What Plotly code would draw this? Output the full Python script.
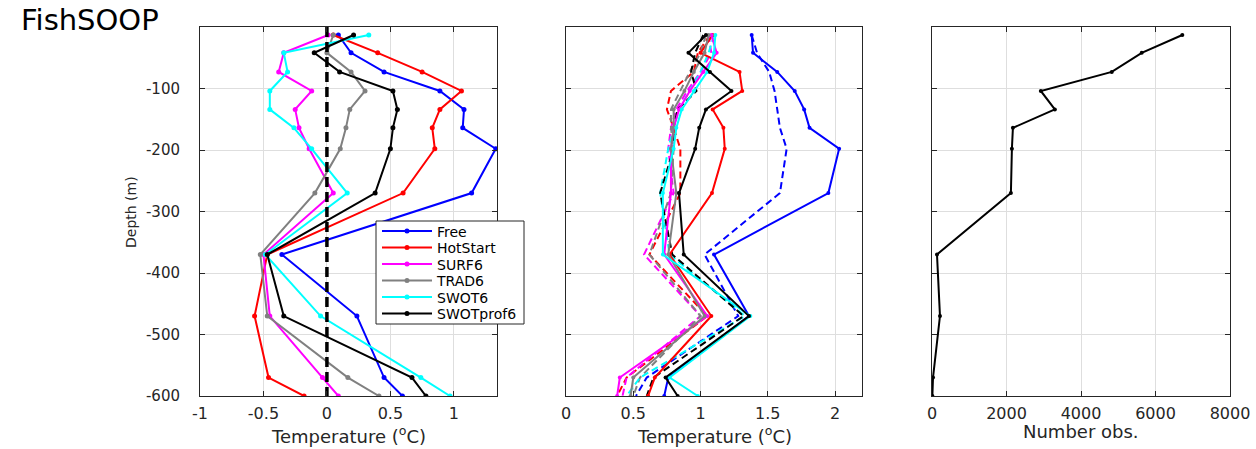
import plotly.graph_objects as go

# ---------------- data ----------------
depth = [-13, -42, -73, -104, -134, -164, -198, -270, -370, -470, -570, -600]

series_names = ["Free", "HotStart", "SURF6", "TRAD6", "SWOT6", "SWOTprof6"]
series_colors = ["#0000ff", "#ff0000", "#ff00ff", "#808080", "#00ffff", "#000000"]

# Panel 1: mean temperature difference (deg C)
bias_free = [0.09, 0.19, 0.45, 0.89, 1.08, 1.07, 1.33, 1.14, -0.355, 0.236, 0.45, 0.595]
bias_hotstart = [0.05, 0.40, 0.75, 1.06, 0.89, 0.83, 0.85, 0.60, -0.47, -0.57, -0.46, -0.18]
bias_surf6 = [0.01, -0.34, -0.38, -0.12, -0.25, -0.22, -0.14, 0.05, -0.50, -0.45, -0.035, 0.09]
bias_trad6 = [0.05, 0.00, 0.19, 0.30, 0.18, 0.15, 0.105, -0.095, -0.525, -0.47, 0.165, 0.41]
bias_swot6 = [0.33, -0.34, -0.31, -0.45, -0.45, -0.26, -0.12, 0.16, -0.485, -0.05, 0.74, 0.97]
bias_swotprof6 = [0.21, -0.10, 0.10, 0.52, 0.555, 0.52, 0.50, 0.38, -0.47, -0.34, 0.67, 0.78]

# Panel 2: RMS temperature difference (deg C), solid and dashed
rms_free = [1.38, 1.39, 1.57, 1.70, 1.77, 1.81, 2.03, 1.95, 1.10, 1.36, 0.76, 0.73]
rms_hotstart = [1.09, 1.00, 1.29, 1.31, 1.09, 1.17, 1.18, 1.085, 0.77, 1.08, 0.66, 0.61]
rms_surf6 = [1.08, 1.12, 1.02, 0.92, 0.84, 0.80, 0.78, 0.78, 0.73, 1.05, 0.40, 0.38]
rms_trad6 = [1.06, 1.03, 0.95, 0.88, 0.80, 0.80, 0.78, 0.82, 0.76, 1.03, 0.50, 0.48]
rms_swot6 = [1.11, 1.10, 1.05, 0.95, 0.86, 0.82, 0.80, 0.72, 0.72, 1.37, 0.77, 0.98]
rms_swotprof6 = [1.04, 0.91, 1.07, 1.23, 1.04, 0.99, 0.96, 0.84, 0.875, 1.36, 0.74, 0.83]

rmsd_free = [1.38, 1.42, 1.51, 1.55, 1.57, 1.59, 1.64, 1.59, 1.03, 1.28, 0.60, 0.52]
rmsd_hotstart = [1.07, 0.98, 0.95, 0.78, 0.75, 0.80, 0.85, 0.85, 0.62, 1.05, 0.45, 0.38]
rmsd_surf6 = [1.06, 1.08, 1.00, 0.90, 0.82, 0.78, 0.76, 0.80, 0.58, 1.00, 0.45, 0.42]
rmsd_trad6 = [1.04, 1.00, 0.92, 0.85, 0.78, 0.78, 0.80, 0.78, 0.62, 1.00, 0.55, 0.50]
rmsd_swot6 = [1.10, 1.06, 1.00, 0.92, 0.84, 0.80, 0.76, 0.70, 0.77, 1.33, 0.55, 0.45]
rmsd_swotprof6 = [1.02, 0.96, 0.93, 0.97, 0.83, 0.80, 0.80, 0.70, 0.79, 1.32, 0.65, 0.60]

# Panel 3: number of observations
n_obs = [6720, 5630, 4826, 2922, 3298, 2172, 2145, 2118, 134, 214, 27, 10]

# zero reference line for panel 1
zero_line_x = [0, 0]
zero_line_y = [0, -600]

# ticks
y_tick_vals = [-600, -500, -400, -300, -200, -100]
y_tick_text = ["-600", "-500", "-400", "-300", "-200", "-100"]
x1_tick_vals = [-1, -0.5, 0, 0.5, 1]
x1_tick_text = ["-1", "-0.5", "0", "0.5", "1"]
x2_tick_vals = [0, 0.5, 1, 1.5, 2]
x2_tick_text = ["0", "0.5", "1", "1.5", "2"]
x3_tick_vals = [0, 2000, 4000, 6000, 8000]
x3_tick_text = ["0", "2000", "4000", "6000", "8000"]

bias_series = [bias_free, bias_hotstart, bias_surf6, bias_trad6, bias_swot6, bias_swotprof6]
rms_series = [rms_free, rms_hotstart, rms_surf6, rms_trad6, rms_swot6, rms_swotprof6]
rmsd_series = [rmsd_free, rmsd_hotstart, rmsd_surf6, rmsd_trad6, rmsd_swot6, rmsd_swotprof6]

# ---------------- layout helpers ----------------
FONT = "DejaVu Sans"
AX = "#262626"
GRID = "#dedede"

W, H = 1256, 449
ML, MR, MT, MB = 200, 26, 27, 53
PW = W - ML - MR
PH = H - MT - MB


def px_x(p):
    return (p - ML) / PW


def px_y(p):
    return (H - MB - p) / PH


d1 = [px_x(200), px_x(497)]
d2 = [px_x(566), px_x(862)]
d3 = [px_x(932), px_x(1230)]

# legend box geometry (pixels)
LEG_LEFT, LEG_RIGHT, LEG_TOP, LEG_BOTTOM = 376, 524, 221, 324
LEG_FIRST, LEG_STEP = 231.5, 16.5
legend_ids = ["legend"] + ["legend%d" % (i + 2) for i in range(len(series_names) - 1)]

# ---------------- figure ----------------
fig = go.Figure()

for lid, name, col, vals in zip(legend_ids, series_names, series_colors, bias_series):
    fig.add_trace(go.Scatter(
        x=vals, y=depth, mode="lines+markers", name=name,
        line=dict(color=col, width=2), marker=dict(color=col, size=5),
        xaxis="x", yaxis="y", showlegend=True, legend=lid))

fig.add_trace(go.Scatter(
    x=zero_line_x, y=zero_line_y, mode="lines",
    line=dict(color="black", width=3.5, dash="10px,5px"),
    xaxis="x", yaxis="y", showlegend=False, hoverinfo="skip"))

for name, col, vals in zip(series_names, series_colors, rmsd_series):
    fig.add_trace(go.Scatter(
        x=vals, y=depth, mode="lines", name=name + " (dashed)",
        line=dict(color=col, width=2, dash="7px,4px"),
        xaxis="x2", yaxis="y2", showlegend=False))

for name, col, vals in zip(series_names, series_colors, rms_series):
    fig.add_trace(go.Scatter(
        x=vals, y=depth, mode="lines+markers", name=name,
        line=dict(color=col, width=2), marker=dict(color=col, size=4),
        xaxis="x2", yaxis="y2", showlegend=False))

fig.add_trace(go.Scatter(
    x=n_obs, y=depth, mode="lines+markers", name="Number obs.",
    line=dict(color="black", width=2), marker=dict(color="black", size=4),
    xaxis="x3", yaxis="y3", showlegend=False))

tickfont = dict(family=FONT, size=16, color=AX)


def xaxis(domain, rng, tv, tt, anchor):
    return dict(domain=domain, range=rng, tickvals=tv, ticktext=tt, anchor=anchor,
                showline=True, linecolor=AX, linewidth=1, mirror="ticks",
                ticks="inside", ticklen=5, tickcolor=AX, showgrid=True,
                gridcolor=GRID, gridwidth=1, zeroline=False, tickfont=tickfont,
                ticklabelstandoff=3, fixedrange=True)


def yaxis(anchor, labels):
    return dict(domain=[0, 1], range=[-600, 0], tickvals=y_tick_vals,
                ticktext=y_tick_text, anchor=anchor, showticklabels=labels,
                showline=True, linecolor=AX, linewidth=1, mirror="ticks",
                ticks="inside", ticklen=5, tickcolor=AX, showgrid=True,
                gridcolor=GRID, gridwidth=1, zeroline=False,
                tickfont=dict(family=FONT, size=15, color=AX),
                ticklabelstandoff=16, fixedrange=True)


layout_legends = {}
for i, lid in enumerate(legend_ids):
    layout_legends[lid] = dict(
        x=px_x(LEG_LEFT + 1), y=px_y(LEG_FIRST + i * LEG_STEP),
        xanchor="left", yanchor="middle",
        bgcolor="rgba(0,0,0,0)", borderwidth=0,
        font=dict(family=FONT, size=14, color="black"),
        itemwidth=50, tracegroupgap=0)

fig.update_layout(
    width=W, height=H,
    margin=dict(l=ML, r=MR, t=MT, b=MB, autoexpand=False),
    paper_bgcolor="white", plot_bgcolor="white",
    xaxis=xaxis(d1, [-1, 1.34], x1_tick_vals, x1_tick_text, "y"),
    xaxis2=xaxis(d2, [0, 2.2], x2_tick_vals, x2_tick_text, "y2"),
    xaxis3=xaxis(d3, [0, 8000], x3_tick_vals, x3_tick_text, "y3"),
    yaxis=yaxis("x", True),
    yaxis2=yaxis("x2", False),
    yaxis3=yaxis("x3", False),
    title=dict(text="FishSOOP", x=21 / W, xanchor="left", y=1 - 20 / H,
               yanchor="middle", xref="container", yref="container",
               font=dict(family=FONT, size=29, color="black")),
    showlegend=True,
    shapes=[dict(type="rect", xref="paper", yref="paper",
                 x0=px_x(LEG_LEFT), x1=px_x(LEG_RIGHT),
                 y0=px_y(LEG_BOTTOM), y1=px_y(LEG_TOP),
                 fillcolor="white", line=dict(color=AX, width=1), layer="above")],
    annotations=[
        dict(text="Temperature (<sup>o</sup>C)", xref="paper", yref="paper",
             x=(d1[0] + d1[1]) / 2, y=px_y(435), xanchor="center", yanchor="middle",
             showarrow=False, font=dict(family=FONT, size=18, color=AX)),
        dict(text="Temperature (<sup>o</sup>C)", xref="paper", yref="paper",
             x=(d2[0] + d2[1]) / 2, y=px_y(435), xanchor="center", yanchor="middle",
             showarrow=False, font=dict(family=FONT, size=18, color=AX)),
        dict(text="Number obs.", xref="paper", yref="paper",
             x=(d3[0] + d3[1]) / 2, y=px_y(431), xanchor="center", yanchor="middle",
             showarrow=False, font=dict(family=FONT, size=18, color=AX)),
        dict(text="Depth (m)", xref="paper", yref="paper", textangle=-90,
             x=px_x(131), y=px_y(212), xanchor="center", yanchor="middle",
             showarrow=False, font=dict(family=FONT, size=14, color=AX)),
    ],
    **layout_legends,
)

fig.write_html("out.html")
